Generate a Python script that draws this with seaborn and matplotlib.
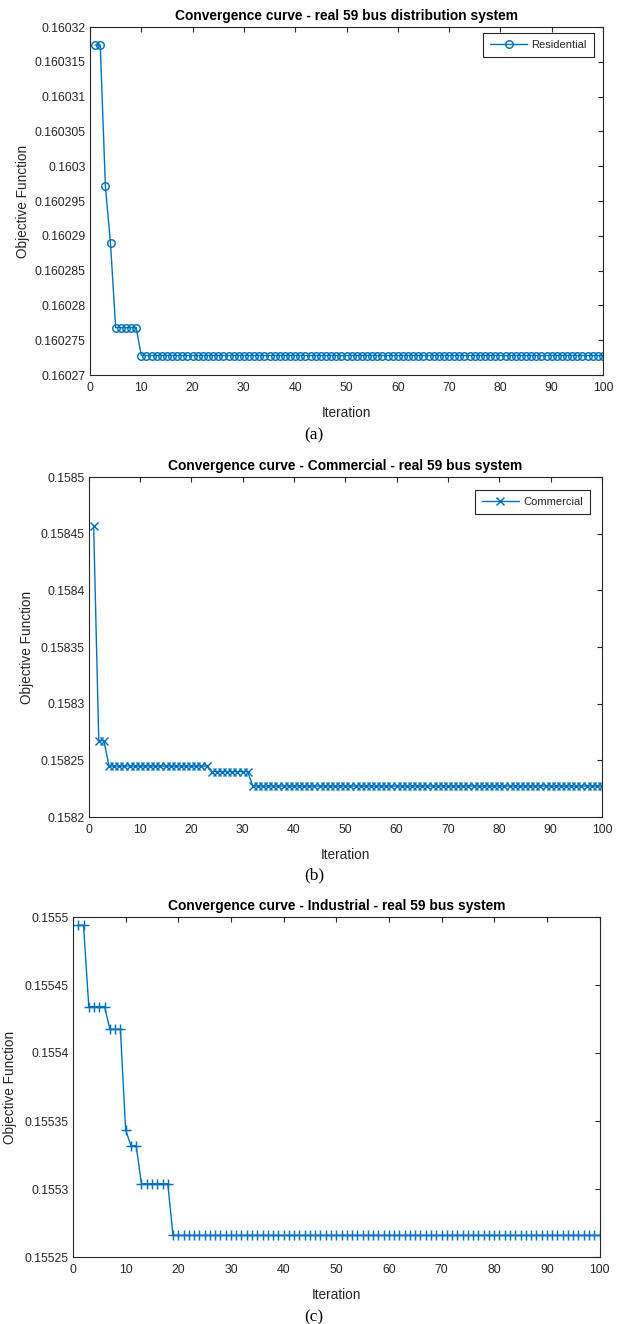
import matplotlib
matplotlib.use("Agg")
import matplotlib.pyplot as plt
from matplotlib.ticker import FixedLocator, FuncFormatter
import numpy as np
import pandas as pd
import seaborn as sns

# ---- data -------------------------------------------------------------
iterations = np.arange(1, 101)

residential = [
    0.1603174, 0.1603174, 0.1602971, 0.1602889, 0.1602768, 0.1602768, 0.1602768, 0.1602768, 0.1602768, 0.1602728,
    0.1602728, 0.1602728, 0.1602728, 0.1602728, 0.1602728, 0.1602728, 0.1602728, 0.1602728, 0.1602728, 0.1602728,
    0.1602728, 0.1602728, 0.1602728, 0.1602728, 0.1602728, 0.1602728, 0.1602728, 0.1602728, 0.1602728, 0.1602728,
    0.1602728, 0.1602728, 0.1602728, 0.1602728, 0.1602728, 0.1602728, 0.1602728, 0.1602728, 0.1602728, 0.1602728,
    0.1602728, 0.1602728, 0.1602728, 0.1602728, 0.1602728, 0.1602728, 0.1602728, 0.1602728, 0.1602728, 0.1602728,
    0.1602728, 0.1602728, 0.1602728, 0.1602728, 0.1602728, 0.1602728, 0.1602728, 0.1602728, 0.1602728, 0.1602728,
    0.1602728, 0.1602728, 0.1602728, 0.1602728, 0.1602728, 0.1602728, 0.1602728, 0.1602728, 0.1602728, 0.1602728,
    0.1602728, 0.1602728, 0.1602728, 0.1602728, 0.1602728, 0.1602728, 0.1602728, 0.1602728, 0.1602728, 0.1602728,
    0.1602728, 0.1602728, 0.1602728, 0.1602728, 0.1602728, 0.1602728, 0.1602728, 0.1602728, 0.1602728, 0.1602728,
    0.1602728, 0.1602728, 0.1602728, 0.1602728, 0.1602728, 0.1602728, 0.1602728, 0.1602728, 0.1602728, 0.1602728,
]

commercial = [
    0.1584570, 0.1582673, 0.1582673, 0.1582450, 0.1582450, 0.1582450, 0.1582450, 0.1582450, 0.1582450, 0.1582450,
    0.1582450, 0.1582450, 0.1582450, 0.1582450, 0.1582450, 0.1582450, 0.1582450, 0.1582450, 0.1582450, 0.1582450,
    0.1582450, 0.1582450, 0.1582450, 0.1582400, 0.1582400, 0.1582400, 0.1582400, 0.1582400, 0.1582400, 0.1582400,
    0.1582400, 0.1582273, 0.1582273, 0.1582273, 0.1582273, 0.1582273, 0.1582273, 0.1582273, 0.1582273, 0.1582273,
    0.1582273, 0.1582273, 0.1582273, 0.1582273, 0.1582273, 0.1582273, 0.1582273, 0.1582273, 0.1582273, 0.1582273,
    0.1582273, 0.1582273, 0.1582273, 0.1582273, 0.1582273, 0.1582273, 0.1582273, 0.1582273, 0.1582273, 0.1582273,
    0.1582273, 0.1582273, 0.1582273, 0.1582273, 0.1582273, 0.1582273, 0.1582273, 0.1582273, 0.1582273, 0.1582273,
    0.1582273, 0.1582273, 0.1582273, 0.1582273, 0.1582273, 0.1582273, 0.1582273, 0.1582273, 0.1582273, 0.1582273,
    0.1582273, 0.1582273, 0.1582273, 0.1582273, 0.1582273, 0.1582273, 0.1582273, 0.1582273, 0.1582273, 0.1582273,
    0.1582273, 0.1582273, 0.1582273, 0.1582273, 0.1582273, 0.1582273, 0.1582273, 0.1582273, 0.1582273, 0.1582273,
]

industrial = [
    0.1554939, 0.1554939, 0.1554341, 0.1554341, 0.1554341, 0.1554341, 0.1554175, 0.1554175, 0.1554175, 0.1553434,
    0.1553319, 0.1553319, 0.1553039, 0.1553039, 0.1553039, 0.1553039, 0.1553039, 0.1553039, 0.1552659, 0.1552659,
    0.1552659, 0.1552659, 0.1552659, 0.1552659, 0.1552659, 0.1552659, 0.1552659, 0.1552659, 0.1552659, 0.1552659,
    0.1552659, 0.1552659, 0.1552659, 0.1552659, 0.1552659, 0.1552659, 0.1552659, 0.1552659, 0.1552659, 0.1552659,
    0.1552659, 0.1552659, 0.1552659, 0.1552659, 0.1552659, 0.1552659, 0.1552659, 0.1552659, 0.1552659, 0.1552659,
    0.1552659, 0.1552659, 0.1552659, 0.1552659, 0.1552659, 0.1552659, 0.1552659, 0.1552659, 0.1552659, 0.1552659,
    0.1552659, 0.1552659, 0.1552659, 0.1552659, 0.1552659, 0.1552659, 0.1552659, 0.1552659, 0.1552659, 0.1552659,
    0.1552659, 0.1552659, 0.1552659, 0.1552659, 0.1552659, 0.1552659, 0.1552659, 0.1552659, 0.1552659, 0.1552659,
    0.1552659, 0.1552659, 0.1552659, 0.1552659, 0.1552659, 0.1552659, 0.1552659, 0.1552659, 0.1552659, 0.1552659,
    0.1552659, 0.1552659, 0.1552659, 0.1552659, 0.1552659, 0.1552659, 0.1552659, 0.1552659, 0.1552659, 0.1552659,
]

x_ticks = [0, 10, 20, 30, 40, 50, 60, 70, 80, 90, 100]
res_yticks = [0.16027, 0.160275, 0.16028, 0.160285, 0.16029, 0.160295,
              0.1603, 0.160305, 0.16031, 0.160315, 0.16032]
com_yticks = [0.1582, 0.15825, 0.1583, 0.15835, 0.1584, 0.15845, 0.1585]
ind_yticks = [0.15525, 0.1553, 0.15535, 0.1554, 0.15545, 0.1555]

titles = [
    "Convergence curve - real 59 bus distribution system",
    "Convergence curve - Commercial - real 59 bus system",
    "Convergence curve - Industrial - real 59 bus system",
]
captions = ["(a)", "(b)", "(c)"]

# ---- style ------------------------------------------------------------
sns.set_theme(style="white")
plt.rcParams["font.family"] = ["Liberation Sans", "DejaVu Sans"]
plt.rcParams.update({
    "xtick.direction": "in",
    "ytick.direction": "in",
    "xtick.top": True,
    "ytick.right": True,
    "xtick.major.size": 3.8,
    "ytick.major.size": 3.8,
    "xtick.major.width": 0.8,
    "ytick.major.width": 0.8,
    "xtick.color": "#262626",
    "ytick.color": "#262626",
    "axes.edgecolor": "#262626",
    "axes.linewidth": 0.8,
})

LINE = "#0072BD"
GRAY = "#262626"
W, H = 628, 1324

fig = plt.figure(figsize=(W / 100, H / 100), dpi=100)


def px_axes(left, right, top, bottom):
    return fig.add_axes([left / W, 1 - bottom / H, (right - left) / W, (bottom - top) / H])


panels = [
    dict(box=(90, 603, 27, 375), y=residential, ticks=res_yticks, marker="o", ms=5.4,
         label="Residential", leg=(594, 33), cap_y=435, ylab_x=23),
    dict(box=(88.5, 602, 477, 817), y=commercial, ticks=com_yticks, marker="x", ms=6,
         label="Commercial", leg=(590, 490), cap_y=875, ylab_x=27),
    dict(box=(73, 599.5, 917, 1257), y=industrial, ticks=ind_yticks, marker="+", ms=7.5,
         label=None, leg=None, cap_y=1317, ylab_x=10),
]

for p, title, cap in zip(panels, titles, captions):
    left, right, top, bottom = p["box"]
    ax = px_axes(left, right, top, bottom)
    df = pd.DataFrame({"Iteration": iterations, "Objective": p["y"]})
    kws = dict(marker=p["marker"], markersize=p["ms"], markeredgecolor=LINE,
               markeredgewidth=1.05, linewidth=1.0, color=LINE)
    if p["marker"] == "o":
        kws["markerfacecolor"] = "none"
    sns.lineplot(data=df, x="Iteration", y="Objective", ax=ax, errorbar=None,
                 label=p["label"], legend=False, **kws)

    ax.set_xlim(0, 100)
    ax.set_ylim(p["ticks"][0], p["ticks"][-1])
    ax.xaxis.set_major_locator(FixedLocator(x_ticks))
    ax.yaxis.set_major_locator(FixedLocator(p["ticks"]))
    ax.yaxis.set_major_formatter(FuncFormatter(lambda v, _: f"{v:.6g}"))
    ax.tick_params(axis="both", labelsize=8.8, labelcolor=GRAY)
    ax.tick_params(axis="x", pad=5)
    ax.tick_params(axis="y", pad=3)
    for s in ax.spines.values():
        s.set_visible(True)
        s.set_color(GRAY)
        s.set_linewidth(0.8)

    ax.set_title(title, fontsize=9.9, fontweight="bold", color="black", pad=5)
    ax.set_xlabel("Iteration", fontsize=9.8, color=GRAY, va="center")
    ax.set_ylabel("Objective Function", fontsize=9.8, color=GRAY, va="center")
    h = bottom - top
    wdt = right - left
    ax.xaxis.set_label_coords(0.5, -38 / h)
    ax.yaxis.set_label_coords((p["ylab_x"] - left) / wdt, 0.5)

    if p["label"]:
        lx, ly = p["leg"]
        leg = ax.legend(loc="upper right",
                        bbox_to_anchor=((lx - left) / wdt, (bottom - ly) / h),
                        borderaxespad=0, frameon=True, fancybox=False,
                        framealpha=1, edgecolor=GRAY, fontsize=8.0,
                        handlelength=3.3, borderpad=0.65, handletextpad=0.4)
        leg.get_frame().set_linewidth(0.8)
        for t in leg.get_texts():
            t.set_color(GRAY)

    fig.text(0.5, 1 - p["cap_y"] / H, cap, ha="center", va="center",
             fontsize=12.5, family=["Liberation Serif", "DejaVu Serif"], color="black")

fig.savefig("out.png", dpi=100)
